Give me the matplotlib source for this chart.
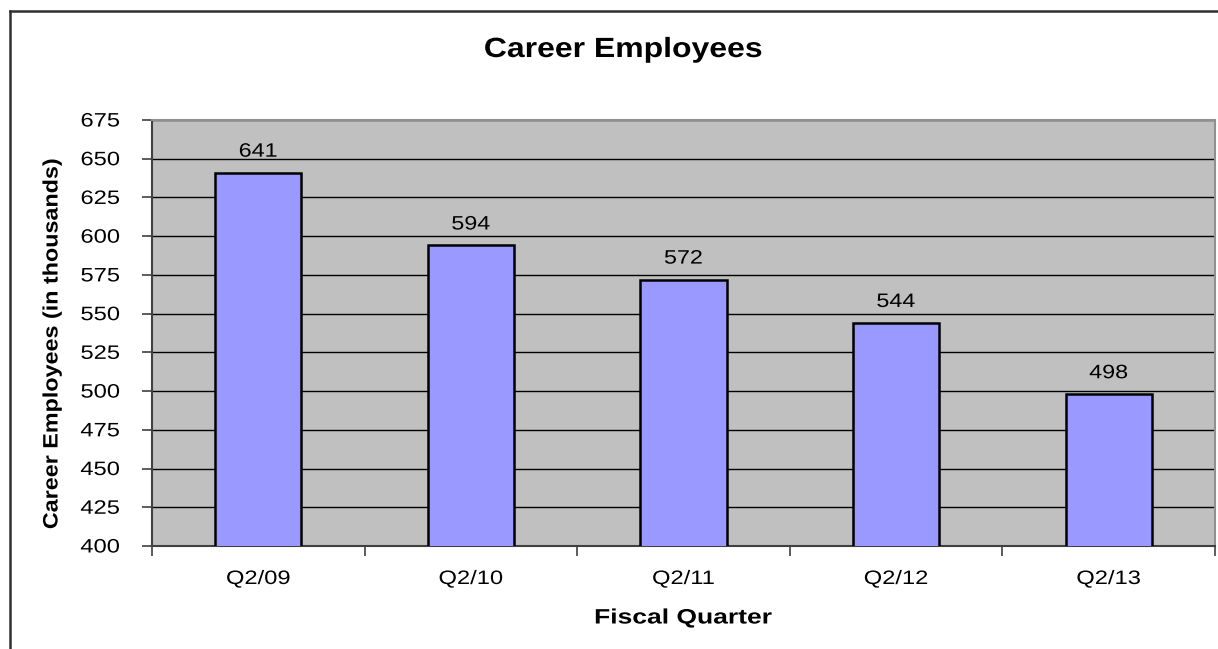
import matplotlib
matplotlib.use("Agg")
import matplotlib.pyplot as plt
from matplotlib.lines import Line2D
from matplotlib.patheffects import AbstractPathEffect
from matplotlib.transforms import Affine2D
import numpy as np

categories = ["Q2/09", "Q2/10", "Q2/11", "Q2/12", "Q2/13"]
values = [641, 594, 572, 544, 498]
yticks = [400, 425, 450, 475, 500, 525, 550, 575, 600, 625, 650, 675]

plt.rcParams['font.family'] = ['Liberation Sans', 'DejaVu Sans']


class Stretch(AbstractPathEffect):
    """Stretch text horizontally (along its own baseline) about an anchor."""
    def __init__(self, sx, anchor='center'):
        super().__init__()
        self.sx = sx
        self.anchor = anchor

    def draw_path(self, renderer, gc, tpath, affine, rgbFace=None):
        ext = tpath.get_extents()
        if self.anchor == 'right':
            cx = ext.x1
        elif self.anchor == 'left':
            cx = ext.x0
        else:
            cx = (ext.x0 + ext.x1) / 2
        t = Affine2D().translate(-cx, 0).scale(self.sx, 1).translate(cx, 0) + affine
        renderer.draw_path(gc, tpath, t, rgbFace)


W, H = 1218, 649
fig = plt.figure(figsize=(W/100, H/100), dpi=100)
ax = fig.add_axes([152/W, 1-546/H, (1215-152)/W, (546-120)/H])
ax.set_facecolor('#C0C0C0')

x = np.arange(len(categories))
ax.bar(x, values, width=0.405, color='#9999FF', edgecolor='black', linewidth=1.8, zorder=3)
for xi, v in zip(x, values):
    ax.annotate(str(v), (xi, v), xytext=(0, 11.5), textcoords='offset points',
                ha='center', va='baseline', fontsize=14,
                path_effects=[Stretch(1.2)])

ax.set_xlim(-0.5, len(categories) - 0.5)
ax.set_ylim(400, 675)
ax.set_yticks(yticks)
ax.yaxis.grid(True, color='black', linewidth=1.0, zorder=1)
ax.set_axisbelow(True)
ax.tick_params(axis='y', labelsize=14, length=7, color='#404040', width=1.2, pad=16)

ax.set_xticks(x)
ax.set_xticklabels(categories)
ax.set_xticks(np.arange(len(categories) + 1) - 0.5, minor=True)
ax.tick_params(axis='x', which='major', length=0, labelsize=14, pad=18)
ax.tick_params(axis='x', which='minor', length=7, color='#404040', width=1.2)

for lbl in ax.get_yticklabels():
    lbl.set_path_effects([Stretch(1.22, 'right')])
for lbl in ax.get_xticklabels():
    lbl.set_path_effects([Stretch(1.22)])

for s in ['left', 'bottom']:
    ax.spines[s].set_color('#404040')
    ax.spines[s].set_linewidth(1.5)
for s in ['top', 'right']:
    ax.spines[s].set_color('#909090')
    ax.spines[s].set_linewidth(1.5)

fig.text(683.5 / W, 1 - 618 / H, "Fiscal Quarter", ha='center', va='center',
         fontsize=15, fontweight='bold', path_effects=[Stretch(1.27)])
fig.text(52 / W, 1 - 343 / H, "Career Employees (in thousands)", ha='center', va='center',
         rotation=90, fontsize=15, fontweight='bold', path_effects=[Stretch(1.12)])
fig.text(623 / W, 1 - 50 / H, "Career Employees", ha='center', va='center',
         fontsize=20, fontweight='bold', path_effects=[Stretch(1.15)])

# outer border (left and top)
fig.add_artist(Line2D([9.5/W, 9.5/W], [0, 1-10.5/H], transform=fig.transFigure, color='#303030', linewidth=1.8))
fig.add_artist(Line2D([9.5/W, 1], [1-10.5/H, 1-10.5/H], transform=fig.transFigure, color='#303030', linewidth=1.8))

fig.savefig("out.png", dpi=100)
